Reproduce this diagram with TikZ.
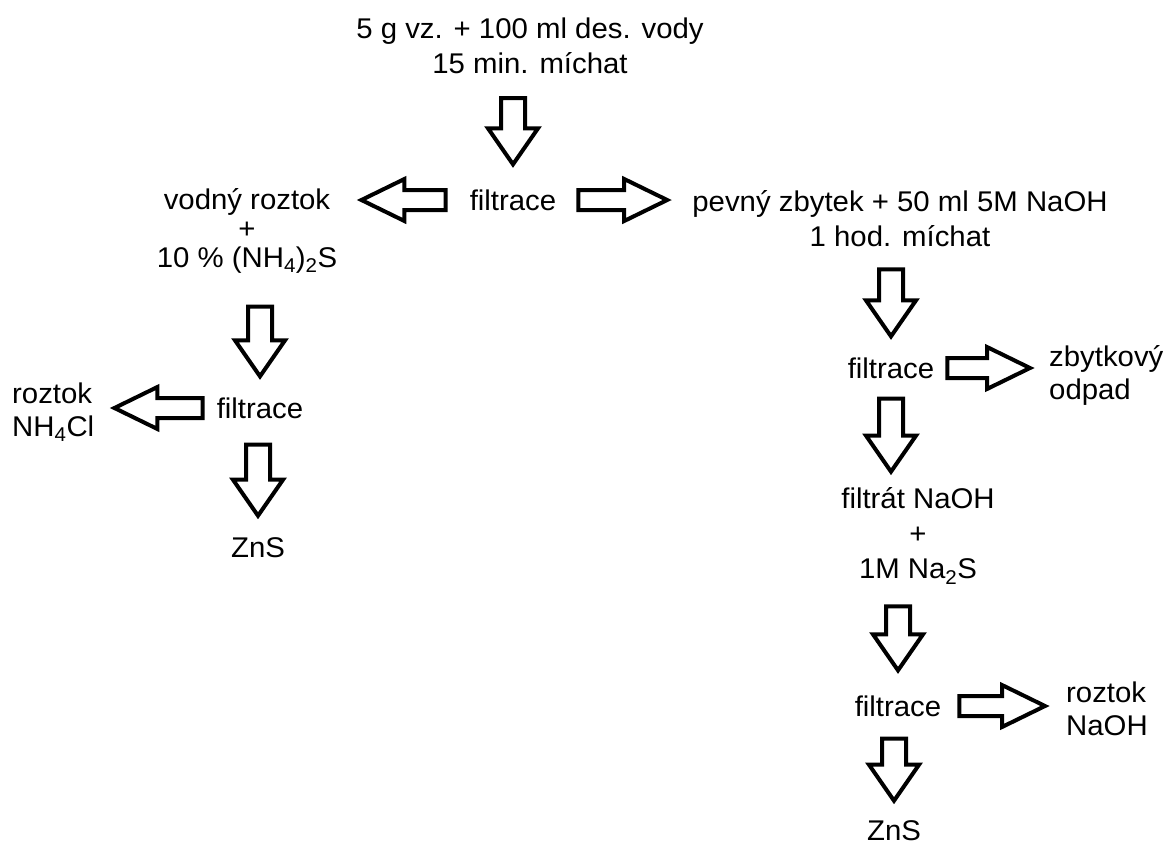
\documentclass[tikz,border=0pt]{standalone}
\usepackage{fontspec}
\setmainfont{Liberation Sans}[FakeStretch=1.03]
\usetikzlibrary{calc}

\begin{document}
\begin{tikzpicture}[
        x=1pt, y=-1pt,
        every node/.style={font=\fontsize{28.5}{29}\selectfont, inner sep=0pt},
        txt/.style={align=center},
        head/.style={align=center, font=\fontsize{28.5}{35}\selectfont},
        side/.style={align=left, anchor=west, font=\fontsize{28.5}{33}\selectfont},
        blk/.style={draw=black, line width=4pt, line join=miter},
        blkdown/.style={blk, to path={let \p1=(\tikztostart), \p2=(\tikztotarget) in
            (\x1-12pt,\y1) -- (\x1-12pt,\y2+36pt) -- (\x1-25pt,\y2+36pt) -- (\x1,\y2)
            -- (\x1+25pt,\y2+36pt) -- (\x1+12pt,\y2+36pt) -- (\x1+12pt,\y1) -- cycle}},
        blkleft/.style={blk, to path={let \p1=(\tikztostart), \p2=(\tikztotarget) in
            (\x1,\y1-10pt) -- (\x2+43pt,\y1-10pt) -- (\x2+43pt,\y1-21pt) -- (\x2,\y1)
            -- (\x2+43pt,\y1+21pt) -- (\x2+43pt,\y1+10pt) -- (\x1,\y1+10pt) -- cycle}},
        blkright/.style={blk, to path={let \p1=(\tikztostart), \p2=(\tikztotarget) in
            (\x1,\y1-10pt) -- (\x2-43pt,\y1-10pt) -- (\x2-43pt,\y1-21pt) -- (\x2,\y1)
            -- (\x2-43pt,\y1+21pt) -- (\x2-43pt,\y1+10pt) -- (\x1,\y1+10pt) -- cycle}}]

      \path[fill=white, use as bounding box] (0,0) rectangle (1167,847);

      % upper part
      \node[head] (start) at (530,46) {5 g vz. + 100 ml des. vody\\15 min. míchat};
      \node (filt1) at (513,200) {filtrace};
      \node[txt] (water) at (247,231) {vodný roztok\\+\\10 \% (NH\textsubscript{4})\textsubscript{2}S};
      \node[head] (solid) at (900,219) {pevný zbytek + 50 ml 5M NaOH\\1 hod. míchat};

      % left branch
      \node (filt4) at (260,408) {filtrace};
      \node[side] (nhcl) at (12,412) {roztok\\NH\textsubscript{4}Cl};
      \node (znsL) at (258,548) {ZnS};

      % right branch
      \node (filt2) at (891,368) {filtrace};
      \node[side] (waste) at (1049,375) {zbytkový\\odpad};
      \node[txt, font=\fontsize{28.5}{35}\selectfont] (filtrate) at (918,536) {filtrát NaOH\\+\\1M Na\textsubscript{2}S};
      \node (filt3) at (898,706) {filtrace};
      \node[side] (naoh) at (1066,709) {roztok\\NaOH};
      \node (znsR) at (894,831) {ZnS};

      \draw[blkdown]  ([yshift=-24pt]start.south -| filt1) to ([yshift=25pt]filt1.north);
      \draw[blkleft]  ([xshift=-24pt]filt1.west) to ([xshift=24pt]water.east);
      \draw[blkright] ([xshift=22pt]filt1.east) to ([xshift=-25pt]solid.west);
      \draw[blkdown]  ([yshift=-33pt]water.south -| filt4) to ([yshift=21pt]filt4.north);
      \draw[blkleft]  ([xshift=-14pt]filt4.west) to ([xshift=20pt]nhcl.east);
      \draw[blkdown]  ([yshift=-26pt]filt4.south -| znsL) to ([yshift=22pt]znsL.north);
      \draw[blkdown]  ([yshift=-22pt]solid.south -| filt2) to ([yshift=21pt]filt2.north);
      \draw[blkright] ([xshift=13pt]filt2.east) to ([xshift=-19pt]waste.west);
      \draw[blkdown]  ([yshift=-20pt]filt2.south) to ([yshift=16pt]filtrate.north);
      \draw[blkdown]  ([yshift=-22pt]filtrate.south -| filt3) to ([yshift=25pt]filt3.north);
      \draw[blkright] ([xshift=18pt]filt3.east) to ([xshift=-21pt]naoh.west);
      \draw[blkdown]  ([yshift=-22pt]filt3.south -| znsR) to ([yshift=20pt]znsR.north);
    \end{tikzpicture}
\end{document}
